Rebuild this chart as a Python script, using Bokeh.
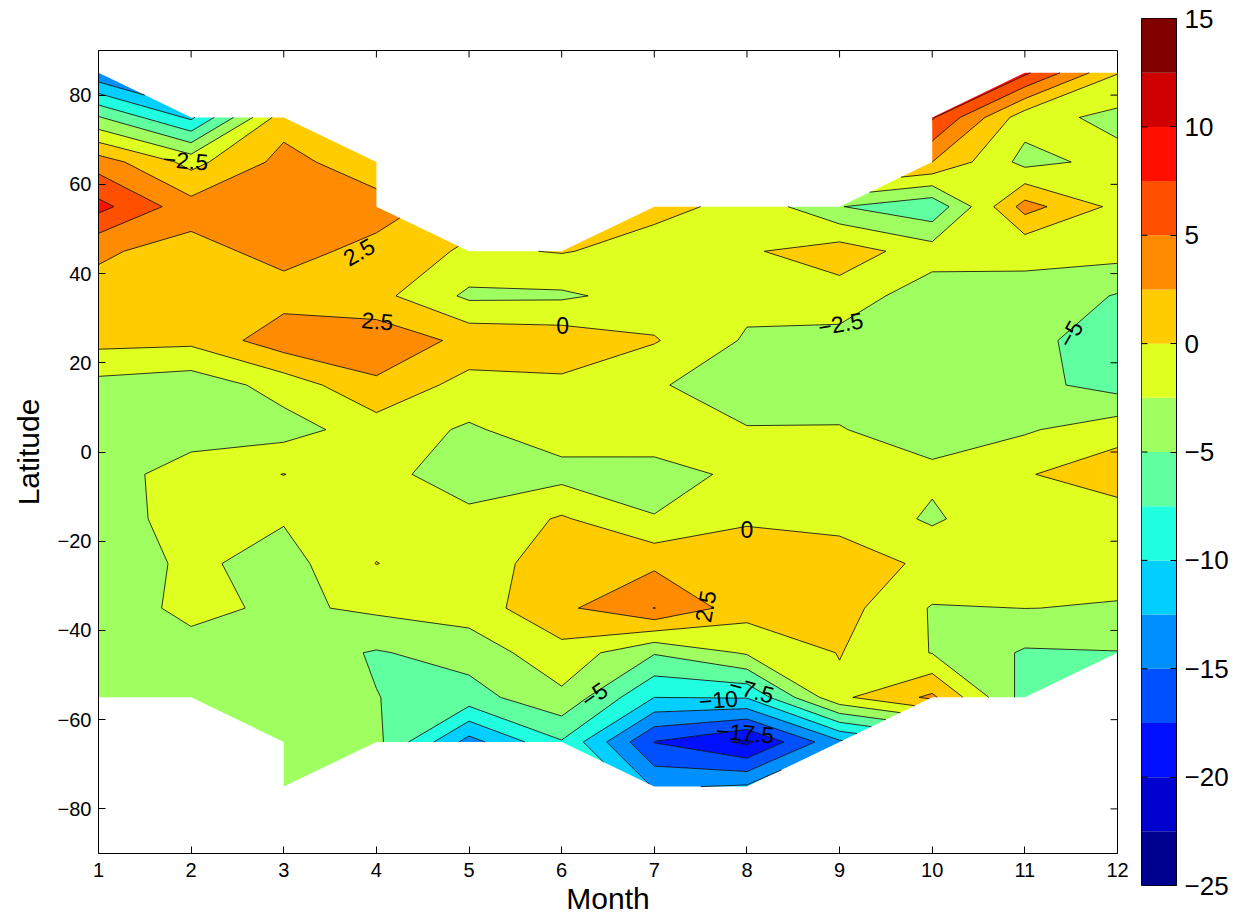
import numpy as np
from bokeh.plotting import figure
from bokeh.models import Range1d, LinearAxis, FixedTicker, ColumnDataSource
from bokeh.layouts import row
from bokeh.embed import file_html
from bokeh.resources import INLINE
from bokeh.core.properties import value

nan = float("nan")

months = [1, 2, 3, 4, 5, 6, 7, 8, 9, 10, 11, 12]
latitudes = [-75, -65, -55, -45, -35, -25, -15, -5, 5, 15, 25, 35, 45, 55, 65, 75, 85]
lat_ticks = [-80, -60, -40, -20, 0, 20, 40, 60, 80]
levels = [-25, -22.5, -20, -17.5, -15, -12.5, -10, -7.5, -5, -2.5, 0, 2.5, 5, 7.5, 10, 12.5, 15]
cbar_ticks = [-25, -20, -15, -10, -5, 0, 5, 10, 15]
band_colors = ["#00008F", "#0000CF", "#0010FF", "#0050FF", "#008FFF", "#00CFFF",
               "#20FFDF", "#60FF9F", "#9FFF60", "#DFFF20", "#FFCC00", "#FF8C00",
               "#FF5000", "#FF1000", "#CF0000", "#800000"]

# anomaly per month, listed from latitude -75 up to 85 (nan = no data)
month_01 = [nan, nan, -4.0, -4.0, -4.0, -4.0, -4.0, -3.5, -3.8, -3.3, 0.8, 1.8, 2.8, 8.3, 3.8, -4.8, -14.5]
month_02 = [nan, nan, -4.0, -3.5, -1.8, -2.0, -1.2, -1.5, -3.5, -4.0, 0.6, 1.5, 1.7, 3.5, -0.8, -10.5, nan]
month_03 = [-4.0, -4.0, -4.0, -3.8, -3.0, -3.5, -2.3, 0.05, -3.5, -1.5, 4.0, 1.5, 3.3, 4.0, 3.3, 1.5, nan]
month_04 = [nan, -4.3, -4.95, -5.2, -2.0, 0.05, -1.0, -2.0, -1.3, 2.1, 4.0, 0.8, 1.8, 3.5, 1.0, nan, nan]
month_05 = [nan, -13.5, -6.0, -4.0, -1.29, -1.5, -2.1, -3.3, -2.8, -1.0, 1.9, -3.0, -0.45, nan, nan, nan, nan]
month_06 = [nan, -7.7, -3.06, -0.83, 1.94, 1.5, 0.3, -3.33, -1.2, -0.5, 1.5, -2.9, 0.15, nan, nan, nan, nan]
month_07 = [-12.8, -17.6, -10.0, -4.8, 5.05, 2.0, -2.4, -3.3, -1.25, -2.4, 0.2, -1.5, -0.9, 0.6, nan, nan, nan]
month_08 = [-12.2, -20.5, -9.8, -2.2, 1.07, 1.5, -0.3, -2.03, -2.45, -3.0, -2.8, -1.8, -0.3, -0.6, nan, nan, nan]
month_09 = [nan, -13.0, -0.5, 0.1, 1.0, 0.8, -0.5, -1.5, -2.4, -3.3, -3.3, -1.1, 1.3, -4.9, nan, nan, nan]
month_10 = [nan, nan, 3.0, -2.6, -2.7, -0.33, -2.9, -2.0, -3.5, -3.6, -3.5, -3.9, -1.3, -6.9, 2.5, 7.8, nan]
month_11 = [nan, nan, -6.0, -5.3, -2.48, -1.5, -0.3, -0.2, -2.8, -4.2, -4.0, -3.0, -2.1, 3.5, -3.3, -1.5, 8.0]
month_12 = [nan, nan, nan, -5.1, -2.6, -2.0, -1.4, 1.5, -1.0, -6.0, -6.8, -5.2, -1.5, -0.67, -1.7, -3.2, 0.1]

# contour labels: (text, month, latitude, angle in degrees)
label_text = ["−2.5", "2.5", "2.5", "0", "−2.5", "−5", "0", "2.5", "−5", "−10", "−7.5", "−17.5"]
label_month = [1.94, 3.81, 4.01, 6.01, 9.01, 11.49, 8.0, 7.55, 6.35, 7.69, 8.05, 7.98]
label_lat = [65.4, 44.9, 29.4, 28.3, 28.8, 26.5, -17.3, -34.6, -54.4, -55.5, -53.3, -62.9]
label_angle = [-5, 30, -5, 0, 10, 60, 0, 80, 35, 5, -15, -5]

FONT = "Liberation Sans"
FRAME_W, FRAME_H = 1019, 803
TICK_PX = 7

z = np.array([month_01, month_02, month_03, month_04, month_05, month_06,
              month_07, month_08, month_09, month_10, month_11, month_12], dtype=float).T


def minus(v):
    return ("%g" % v).replace("-", "\u2212")


x0, x1 = months[0], months[-1]
y0, y1 = -90, 90
p = figure(width=1130, height=918, x_range=Range1d(x0, x1), y_range=Range1d(y0, y1),
           toolbar_location=None, output_backend="svg",
           min_border_left=98, min_border_right=13, min_border_top=50, min_border_bottom=65)
try:
    p.frame_align = False
except Exception:
    pass

p.contour(x=months, y=latitudes, z=z, levels=levels,
          fill_color=band_colors, line_color="black", line_width=0.8)

src = ColumnDataSource(dict(x=label_month, y=label_lat, text=label_text, angle=label_angle))
p.text(x="x", y="y", text="text", angle="angle", angle_units="deg", source=src,
       text_font=value(FONT), text_font_size="23px", text_align="center",
       text_baseline="middle", text_color="black")

# inward ticks on the top and right edges of the box
dx = (x1 - x0) / FRAME_W * TICK_PX
dy = (y1 - y0) / FRAME_H * TICK_PX
p.segment(x0=months, y0=[y1] * len(months), x1=months, y1=[y1 - dy] * len(months),
          line_color="black", line_width=1)
p.segment(x0=[x1] * len(lat_ticks), y0=lat_ticks, x1=[x1 - dx] * len(lat_ticks), y1=lat_ticks,
          line_color="black", line_width=1)

p.xgrid.visible = False
p.ygrid.visible = False
p.outline_line_color = "black"

for ax in p.xaxis:
    ax.ticker = FixedTicker(ticks=months)
    ax.axis_label = "Month"
    ax.major_label_standoff = 9
    ax.axis_label_standoff = 2
for ax in p.yaxis:
    ax.ticker = FixedTicker(ticks=lat_ticks)
    ax.axis_label = "Latitude"
    ax.major_label_overrides = {t: minus(t) for t in lat_ticks}
    ax.major_label_standoff = 7
    ax.axis_label_standoff = 10

for ax in list(p.xaxis) + list(p.yaxis):
    ax.major_tick_in = TICK_PX
    ax.major_tick_out = 0
    ax.minor_tick_line_color = None
    ax.axis_line_color = "black"
    ax.major_tick_line_color = "black"
    ax.major_label_text_font = FONT
    ax.major_label_text_font_size = "20px"
    ax.major_label_text_color = "black"
    ax.axis_label_text_font = FONT
    ax.axis_label_text_font_size = "30px"
    ax.axis_label_text_font_style = "normal"
    ax.axis_label_text_color = "black"

# colour bar as its own small figure
cb = figure(width=105, height=918, x_range=Range1d(0, 1), y_range=Range1d(levels[0], levels[-1]),
            toolbar_location=None, output_backend="svg", x_axis_type=None,
            y_axis_location="right",
            min_border_left=11, min_border_right=59, min_border_top=18, min_border_bottom=33)
try:
    cb.frame_align = False
except Exception:
    pass
cb.quad(left=0, right=1, bottom=levels[:-1], top=levels[1:], fill_color=band_colors,
        line_color=None)
cb_dx = 1.0 / 35 * 6
cb.segment(x0=[0] * len(cbar_ticks), y0=cbar_ticks, x1=[cb_dx] * len(cbar_ticks), y1=cbar_ticks,
           line_color="black", line_width=1)
cb.xgrid.visible = False
cb.ygrid.visible = False
cb.outline_line_color = "black"
for ax in cb.yaxis:
    ax.ticker = FixedTicker(ticks=cbar_ticks)
    ax.major_label_overrides = {t: minus(t) for t in cbar_ticks}
    ax.major_tick_in = 6
    ax.major_tick_out = 0
    ax.minor_tick_line_color = None
    ax.axis_line_color = "black"
    ax.major_label_text_font = FONT
    ax.major_label_text_font_size = "26px"
    ax.major_label_text_color = "black"
    ax.major_label_standoff = 8

layout = row(p, cb, spacing=0)
open("out.html", "w").write(file_html(layout, INLINE))
